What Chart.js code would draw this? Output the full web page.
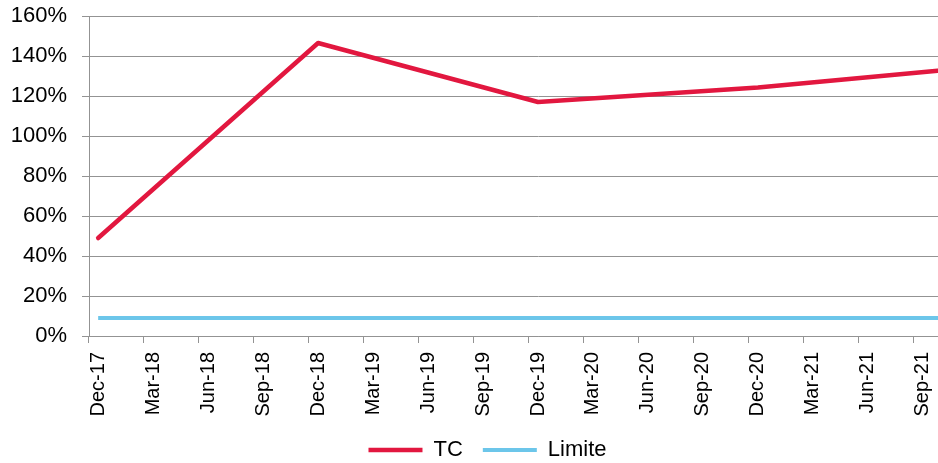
<!DOCTYPE html>
<html>
<head>
<meta charset="utf-8">
<script src="https://cdn.jsdelivr.net/npm/chart.js@4"></script>
<style>
html,body{margin:0;padding:0;overflow:hidden;background:#fff;width:938px;height:463px}
#wrap{position:relative;width:1000px;height:471px}
</style>
</head>
<body>
<div id="wrap"><canvas id="c"></canvas></div>
<script>
// Monthly categories of the date axis
const months = [
  'Dec-17','Jan-18','Feb-18','Mar-18','Apr-18','May-18','Jun-18','Jul-18','Aug-18','Sep-18','Oct-18','Nov-18',
  'Dec-18','Jan-19','Feb-19','Mar-19','Apr-19','May-19','Jun-19','Jul-19','Aug-19','Sep-19','Oct-19','Nov-19',
  'Dec-19','Jan-20','Feb-20','Mar-20','Apr-20','May-20','Jun-20','Jul-20','Aug-20','Sep-20','Oct-20','Nov-20',
  'Dec-20','Jan-21','Feb-21','Mar-21','Apr-21','May-21','Jun-21','Jul-21','Aug-21','Sep-21','Oct-21','Nov-21',
  'Dec-21'
];
// Labelled ticks (every 3 months)
const tickLabels = ['Dec-17','Mar-18','Jun-18','Sep-18','Dec-18','Mar-19','Jun-19','Sep-19',
  'Dec-19','Mar-20','Jun-20','Sep-20','Dec-20','Mar-21','Jun-21','Sep-21','Dec-21'];

// Series TC
const tcDates  = ['Dec-17','Dec-18','Dec-19','Dec-20','Dec-21'];
const tcValues = [49, 146.5, 117, 124.3, 134.5];

// Series Limite
const limDates  = ['Dec-17','Dec-21'];
const limValues = [9, 9];

// Y axis
const yMin = 0, yMax = 160, yStep = 20;

const FONT = "'Liberation Sans', Arial, sans-serif";
const GRID = '#939393';

new Chart(document.getElementById('c'), {
  type: 'line',
  data: {
    labels: months,
    datasets: [
      {
        label: 'TC',
        data: tcDates.map((d, i) => ({x: d, y: tcValues[i]})),
        borderColor: '#E2173F',
        backgroundColor: '#E2173F',
        borderWidth: 4.5,
        pointRadius: 0,
        tension: 0,
        borderCapStyle: 'round',
        borderJoinStyle: 'round',
        spanGaps: true
      },
      {
        label: 'Limite',
        data: limDates.map((d, i) => ({x: d, y: limValues[i]})),
        borderColor: '#6CC6EA',
        backgroundColor: '#6CC6EA',
        borderWidth: 4,
        pointRadius: 0,
        tension: 0,
        borderCapStyle: 'butt',
        spanGaps: true
      }
    ]
  },
  options: {
    responsive: true,
    maintainAspectRatio: false,
    animation: false,
    devicePixelRatio: 1,
    layout: { padding: { left: -12, right: 13, top: 16, bottom: 0 } },
    plugins: {
      legend: {
        position: 'bottom',
        labels: {
          usePointStyle: true,
          pointStyle: 'line',
          pointStyleWidth: 54,
          padding: 20,
          color: '#000',
          font: { family: FONT, size: 22 }
        }
      },
      tooltip: { enabled: false }
    },
    scales: {
      x: {
        type: 'category',
        offset: true,
        afterFit: s => { s.height = 83; s.paddingLeft = 0; s.paddingRight = 0; },
        grid: {
          offset: true,
          drawOnChartArea: false,
          drawTicks: true,
          tickLength: 7,
          lineWidth: 1,
          color: ctx => (ctx.index !== undefined && ctx.index % 3 === 0) ? GRID : 'rgba(0,0,0,0)'
        },
        border: { display: true, color: GRID, width: 1 },
        ticks: {
          autoSkip: false,
          minRotation: 90,
          maxRotation: 90,
          padding: 9,
          color: '#000',
          font: { family: FONT, size: 20 },
          callback: function(v, i) {
            const l = this.getLabelForValue(v);
            return tickLabels.includes(l) ? l : '';
          }
        }
      },
      y: {
        min: yMin,
        max: yMax,
        afterFit: s => { s.width = 101; s.paddingTop = 0; s.paddingBottom = 0; },
        grid: { color: GRID, lineWidth: 1, tickLength: 7, drawTicks: true },
        border: { display: true, color: GRID, width: 1 },
        ticks: {
          stepSize: yStep,
          padding: 15,
          color: '#000',
          font: { family: FONT, size: 22 },
          callback: v => v + '%'
        }
      }
    }
  }
});
</script>
</body>
</html>
